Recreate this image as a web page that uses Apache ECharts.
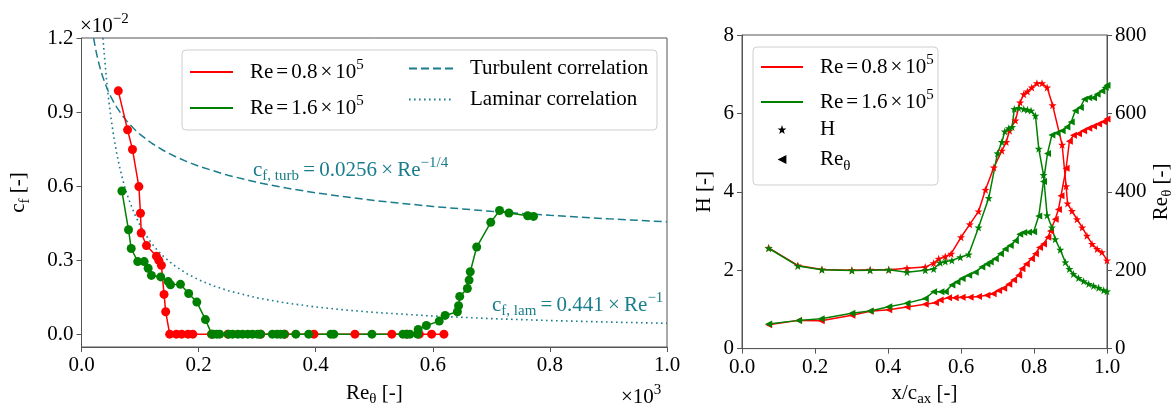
<!DOCTYPE html>
<html><head><meta charset="utf-8">
<script src="https://cdn.jsdelivr.net/npm/echarts@6/dist/echarts.min.js"></script>
<style>html,body{margin:0;padding:0;background:#fff}#c{width:1176px;height:412px}</style>
</head><body><div id="c"></div>
<script>
// ---------- Left panel: c_f (x1e-2) vs Re_theta (x1e3) ----------
const cfRedX = [0.0628,0.0787,0.0871,0.098,0.1007,0.102,0.111,0.128,0.132,0.1365,0.141,0.1438,0.1506,0.162,0.171,0.182,0.190,0.222,0.25,0.306,0.347,0.397,0.467,0.53,0.555,0.577,0.598,0.619];
const cfRedY = [0.986,0.828,0.748,0.598,0.490,0.410,0.359,0.316,0.299,0.279,0.161,0.091,0,0,0,0,0,0,0,0,0,0,0,0,0,0,0,0];
const cfGreenX = [0.069,0.0803,0.0849,0.096,0.107,0.1138,0.1194,0.1353,0.148,0.152,0.169,0.183,0.197,0.2117,0.2224,0.225,0.231,0.236,0.251,0.258,0.267,0.275,0.284,0.292,0.301,0.306,0.326,0.334,0.340,0.346,0.366,0.388,0.426,0.431,0.496,0.549,0.556,0.561,0.574,0.575,0.589,0.611,0.621,0.642,0.644,0.646,0.659,0.662,0.664,0.675,0.699,0.714,0.730,0.762,0.772];
const cfGreenY = [0.580,0.423,0.347,0.294,0.294,0.267,0.238,0.232,0.213,0.200,0.202,0.165,0.130,0.059,0,0,0,0,0,0,0,0,0,0,0,0,0,0,0,0,0,0,0,0,0,0,0,0,0,0.019,0.035,0.053,0.076,0.091,0.115,0.153,0.185,0.219,0.253,0.353,0.453,0.501,0.491,0.480,0.477];
// correlation curves (values as plotted)
const turbX = [0.0207,0.022,0.024,0.026,0.028,0.03,0.033,0.036,0.04,0.045,0.05,0.055,0.06,0.07,0.08,0.09,0.1,0.12,0.14,0.16,0.18,0.2,0.25,0.3,0.35,0.4,0.5,0.6,0.7,0.8,0.9,1.0];
const turbY = [1.2,1.1821,1.1566,1.1337,1.1129,1.0939,1.0681,1.0451,1.0179,0.9884,0.9627,0.9400,0.9198,0.8850,0.8560,0.8311,0.8095,0.7735,0.7442,0.7198,0.6989,0.6807,0.6438,0.6151,0.5919,0.5724,0.5414,0.5173,0.4977,0.4814,0.4674,0.4552];
const lamX = [0.03675,0.038,0.04,0.0425,0.045,0.0475,0.05,0.055,0.06,0.065,0.07,0.075,0.08,0.09,0.1,0.11,0.12,0.13,0.14,0.16,0.18,0.2,0.225,0.25,0.3,0.35,0.4,0.45,0.5,0.6,0.7,0.8,0.9,1.0];
const lamY = [1.2,1.1605,1.1025,1.0376,0.98,0.9284,0.882,0.8018,0.735,0.6785,0.63,0.588,0.5513,0.49,0.441,0.4009,0.3675,0.3392,0.315,0.2756,0.245,0.2205,0.196,0.1764,0.147,0.126,0.1103,0.098,0.0882,0.0735,0.063,0.0551,0.049,0.0441];
const leftXTicks = [0,0.2,0.4,0.6,0.8,1.0];
const leftYTicks = [0,0.3,0.6,0.9,1.2];

// ---------- Right panel: H and Re_theta vs x/c_ax ----------
const hRedX = [0.073,0.153,0.219,0.301,0.351,0.402,0.452,0.502,0.525,0.539,0.557,0.573,0.600,0.624,0.648,0.667,0.690,0.712,0.724,0.733,0.749,0.762,0.772,0.782,0.794,0.808,0.822,0.836,0.851,0.877,0.888,0.892,0.904,0.918,0.932,0.945,0.959,0.973,0.986,1.000];
const hRedY = [2.57,2.12,2.02,2.00,2.01,2.01,2.05,2.08,2.18,2.29,2.35,2.42,2.84,3.17,3.50,4.05,4.62,5.05,5.27,5.56,5.82,6.28,6.49,6.56,6.66,6.77,6.77,6.66,6.21,5.20,4.14,3.70,3.51,3.30,3.09,2.88,2.67,2.54,2.46,2.25];
const hGreenX = [0.073,0.153,0.219,0.301,0.351,0.402,0.452,0.502,0.525,0.543,0.557,0.575,0.598,0.621,0.648,0.676,0.700,0.712,0.720,0.731,0.740,0.746,0.758,0.772,0.782,0.792,0.804,0.813,0.826,0.836,0.849,0.858,0.872,0.886,0.897,0.908,0.922,0.936,0.950,0.963,0.977,0.991,1.000];
const hGreenY = [2.56,2.11,2.01,1.99,2.00,2.01,1.95,2.00,2.03,2.19,2.22,2.25,2.33,2.40,3.09,3.84,4.98,5.27,5.54,5.62,5.65,6.11,6.14,6.11,6.09,6.07,5.94,5.10,4.43,3.40,3.09,2.79,2.52,2.20,2.03,1.90,1.80,1.72,1.65,1.60,1.55,1.49,1.46];
const reRedX = [0.073,0.155,0.217,0.301,0.351,0.402,0.452,0.502,0.530,0.543,0.566,0.584,0.603,0.625,0.648,0.671,0.688,0.703,0.717,0.731,0.744,0.758,0.767,0.779,0.793,0.804,0.815,0.826,0.838,0.845,0.858,0.867,0.874,0.888,0.897,0.908,0.922,0.936,0.950,0.963,0.977,0.991,1.000];
const reRedY = [61,72,71,85,95,99,106,113,117,124,130,130,131,131,133,136,140,148,154,164,175,187,204,216,229,242,258,267,284,300,330,355,390,460,529,544,548,556,562,567,573,579,586];
const reGreenX = [0.073,0.155,0.217,0.301,0.351,0.402,0.452,0.502,0.525,0.545,0.557,0.575,0.589,0.603,0.621,0.639,0.657,0.671,0.680,0.694,0.708,0.721,0.735,0.749,0.761,0.772,0.785,0.799,0.813,0.826,0.837,0.849,0.863,0.877,0.890,0.902,0.913,0.927,0.938,0.950,0.963,0.973,0.986,0.995,1.000];
const reGreenY = [63,72,76,90,96,107,116,128,145,145,145,162,170,179,187,195,208,216,221,229,242,254,263,275,292,296,297,298,338,426,498,545,550,556,565,578,607,615,636,640,640,649,657,666,672];
const rightXTicks = [0,0.2,0.4,0.6,0.8,1.0];
const hTicks = [0,2,4,6,8];
const reTicks = [0,200,400,600,800];

const F = "'Liberation Serif', 'DejaVu Serif', serif";
const RED = '#ff0000', GREEN = '#008000', TEAL = '#1a7d8c', AX = '#555';
const TS = '\u2009';
const zip = (a,b) => a.map((x,i)=>[x,b[i]]);
const STAR = 'path://M0,-10L2.35,-3.24L9.51,-3.09L3.8,1.24L5.88,8.09L0,4L-5.88,8.09L-3.8,1.24L-9.51,-3.09L-2.35,-3.24Z';
const LTRI = 'path://M0,5L10,0L10,10Z';

function mkRich(color){
  return {
    m:{fontFamily:F,fontSize:21,lineHeight:28,color:color,fill:color},
    sup:{fontFamily:F,fontSize:15,lineHeight:10,verticalAlign:'top',color:color,fill:color},
    sub:{fontFamily:F,fontSize:15,lineHeight:14,verticalAlign:'bottom',color:color,fill:color},
    p:{width:12,fontSize:21,lineHeight:28},
    s:{width:3,fontSize:21,lineHeight:28}
  };
}
const richK = mkRich('#000');
const richT = mkRich(TEAL);

const LEG = {
  'R08':'{p| }{m|Re}{s| }{m|=}{s| }{m|0.8}{s| }{m|×}{s| }{m|10}{sup|5}',
  'R16':'{p| }{m|Re}{s| }{m|=}{s| }{m|1.6}{s| }{m|×}{s| }{m|10}{sup|5}',
  'Turbulent correlation':'{p| }{m|Turbulent correlation}',
  'Laminar correlation':'{p| }{m|Laminar correlation}',
  'H':'{p| }{m|H}',
  'Reθ':'{p| }{m|Re}{sub|θ}'
};

function leg(name, left, cy, w, ih, hideLine){
  const d = {name:name};
  if (hideLine) d.lineStyle = {opacity:0}; else d.itemStyle = {opacity:0};
  return {data:[d], left:left, top:cy-14, itemWidth:w, itemHeight:ih, padding:0, orient:'vertical',
    formatter:n=>LEG[n], textStyle:{rich:richK, fontFamily:F, fontSize:21}, selectedMode:false, z:5};
}

const tickLabel = {fontFamily:F, fontSize:21, color:'#000'};

const option = {
  animation:false,
  backgroundColor:'#fff',
  textStyle:{fontFamily:F},
  grid:[
    {left:78, top:38, width:589, height:312, show:true, borderColor:AX, borderWidth:1},
    {left:742, top:35, width:365, height:318, show:true, borderColor:AX, borderWidth:1}
  ],
  xAxis:[
    {gridIndex:0, type:'value', min:0, max:1, interval:0.2,
     axisLine:{show:true,onZero:false,lineStyle:{color:AX}}, axisTick:{show:true,length:5,lineStyle:{color:AX}},
     axisLabel:Object.assign({margin:8, formatter:v=>v.toFixed(1), customValues:leftXTicks}, tickLabel), splitLine:{show:false},
     name:'{m|Re}{sub|θ}{m| [-]}', nameLocation:'middle', nameGap:32, nameTextStyle:{rich:richK}},
    {gridIndex:1, type:'value', min:0, max:1, interval:0.2,
     axisLine:{show:true,onZero:false,lineStyle:{color:AX}}, axisTick:{show:true,length:5,lineStyle:{color:AX}},
     axisLabel:Object.assign({margin:8, formatter:v=>v.toFixed(1), customValues:rightXTicks}, tickLabel), splitLine:{show:false},
     name:'{m|x/c}{sub|ax}{m| [-]}', nameLocation:'middle', nameGap:30, nameTextStyle:{rich:richK}}
  ],
  yAxis:[
    {gridIndex:0, type:'value', min:-0.052, max:1.2,
     axisLine:{show:true,onZero:false,lineStyle:{color:AX}}, axisTick:{show:true,length:5,customValues:leftYTicks,lineStyle:{color:AX}},
     axisLabel:Object.assign({margin:8, formatter:v=>v.toFixed(1), customValues:leftYTicks}, tickLabel), splitLine:{show:false},
     name:'{m|c}{sub|f}{m| [-]}', nameLocation:'middle', nameGap:49, nameTextStyle:{rich:richK}},
    {gridIndex:1, type:'value', min:0, max:8, interval:2,
     axisLine:{show:true,onZero:false,lineStyle:{color:AX}}, axisTick:{show:true,length:5,lineStyle:{color:AX}},
     axisLabel:Object.assign({margin:8, customValues:hTicks}, tickLabel), splitLine:{show:false},
     name:'{m|H [-]}', nameLocation:'middle', nameGap:24, nameTextStyle:{rich:richK}},
    {gridIndex:1, type:'value', min:0, max:800, interval:200, position:'right',
     axisLine:{show:true,onZero:false,lineStyle:{color:AX}}, axisTick:{show:true,length:5,lineStyle:{color:AX}},
     axisLabel:Object.assign({margin:8, customValues:reTicks}, tickLabel), splitLine:{show:false},
     name:'{m|Re}{sub|θ}{m| [-]}', nameLocation:'middle', nameGap:40, nameTextStyle:{rich:richK}}
  ],
  legend:[
    leg('R08',189,72,43,14,false),
    leg('R16',189,108,43,14,false),
    leg('Turbulent correlation',408,72,44,14,false),
    leg('Laminar correlation',408,103,44,14,false),
    leg('R08',760,67,42,14,false),
    leg('R16',760,102,42,14,false),
    leg('H',760,133,42,11,true),
    leg('Reθ',760,163,42,11,true)
  ],
  graphic:[
    {type:'rect', z:3, shape:{x:182,y:50,width:475,height:80,r:4}, style:{fill:'rgba(255,255,255,0.8)',stroke:'#cfcfcf',lineWidth:1}},
    {type:'rect', z:3, shape:{x:753,y:47,width:185,height:138,r:4}, style:{fill:'rgba(255,255,255,0.8)',stroke:'#cfcfcf',lineWidth:1}},
    {type:'text', z:3, x:253, y:156, style:{text:'{m|c}{sub|f, turb}{m|'+TS+'='+TS+'0.0256'+TS+'×'+TS+'Re}{sup|−1/4}', rich:richT, verticalAlign:'top', align:'left'}},
    {type:'text', z:3, x:492, y:291, style:{text:'{m|c}{sub|f, lam}{m|'+TS+'='+TS+'0.441'+TS+'×'+TS+'Re}{sup|−1}', rich:richT, verticalAlign:'top', align:'left'}},
    {type:'text', z:3, x:80, y:12, style:{text:'{m|×10}{sup|−2}', rich:richK, verticalAlign:'top', align:'left'}},
    {type:'text', z:3, x:621, y:383, style:{text:'{m|×10}{sup|3}', rich:richK, verticalAlign:'top', align:'left'}}
  ],
  series:[
    {name:'Turbulent correlation', type:'line', xAxisIndex:0, yAxisIndex:0, data:zip(turbX,turbY), symbol:'none',
     lineStyle:{color:TEAL,width:1.5,type:[8,4]}, itemStyle:{color:TEAL}, z:2},
    {name:'Laminar correlation', type:'line', xAxisIndex:0, yAxisIndex:0, data:zip(lamX,lamY), symbol:'none',
     lineStyle:{color:TEAL,width:1.6,type:[1.6,3.4]}, itemStyle:{color:TEAL}, z:2},
    {name:'cf red', type:'line', xAxisIndex:0, yAxisIndex:0, data:zip(cfRedX,cfRedY), symbol:'circle', symbolSize:9,
     lineStyle:{color:RED,width:1.5}, itemStyle:{color:RED}, z:3},
    {name:'cf green', type:'line', xAxisIndex:0, yAxisIndex:0, data:zip(cfGreenX,cfGreenY), symbol:'circle', symbolSize:9,
     lineStyle:{color:GREEN,width:1.5}, itemStyle:{color:GREEN}, z:3},
    {name:'H red', type:'line', xAxisIndex:1, yAxisIndex:1, data:zip(hRedX,hRedY), symbol:STAR, symbolSize:8,
     lineStyle:{color:RED,width:1.5}, itemStyle:{color:RED}, z:3},
    {name:'Re red', type:'line', xAxisIndex:1, yAxisIndex:2, data:zip(reRedX,reRedY), symbol:LTRI, symbolSize:7,
     lineStyle:{color:RED,width:1.5}, itemStyle:{color:RED}, z:3},
    {name:'H green', type:'line', xAxisIndex:1, yAxisIndex:1, data:zip(hGreenX,hGreenY), symbol:STAR, symbolSize:8,
     lineStyle:{color:GREEN,width:1.5}, itemStyle:{color:GREEN}, z:3},
    {name:'Re green', type:'line', xAxisIndex:1, yAxisIndex:2, data:zip(reGreenX,reGreenY), symbol:LTRI, symbolSize:7,
     lineStyle:{color:GREEN,width:1.5}, itemStyle:{color:GREEN}, z:3},
    // legend-only entries
    {name:'R08', type:'line', xAxisIndex:1, yAxisIndex:1, data:[], symbol:'none', lineStyle:{color:RED,width:1.5}, itemStyle:{color:RED}},
    {name:'R16', type:'line', xAxisIndex:1, yAxisIndex:1, data:[], symbol:'none', lineStyle:{color:GREEN,width:1.5}, itemStyle:{color:GREEN}},
    {name:'H', type:'line', xAxisIndex:1, yAxisIndex:1, data:[], symbol:STAR, lineStyle:{color:'#000',width:1.5,opacity:0}, itemStyle:{color:'#000'}},
    {name:'Reθ', type:'line', xAxisIndex:1, yAxisIndex:2, data:[], symbol:LTRI, lineStyle:{color:'#000',width:1.5,opacity:0}, itemStyle:{color:'#000'}}
  ]
};
const chart = echarts.init(document.getElementById('c'), null, {renderer:'canvas'});
chart.setOption(option);
</script>
</body></html>
